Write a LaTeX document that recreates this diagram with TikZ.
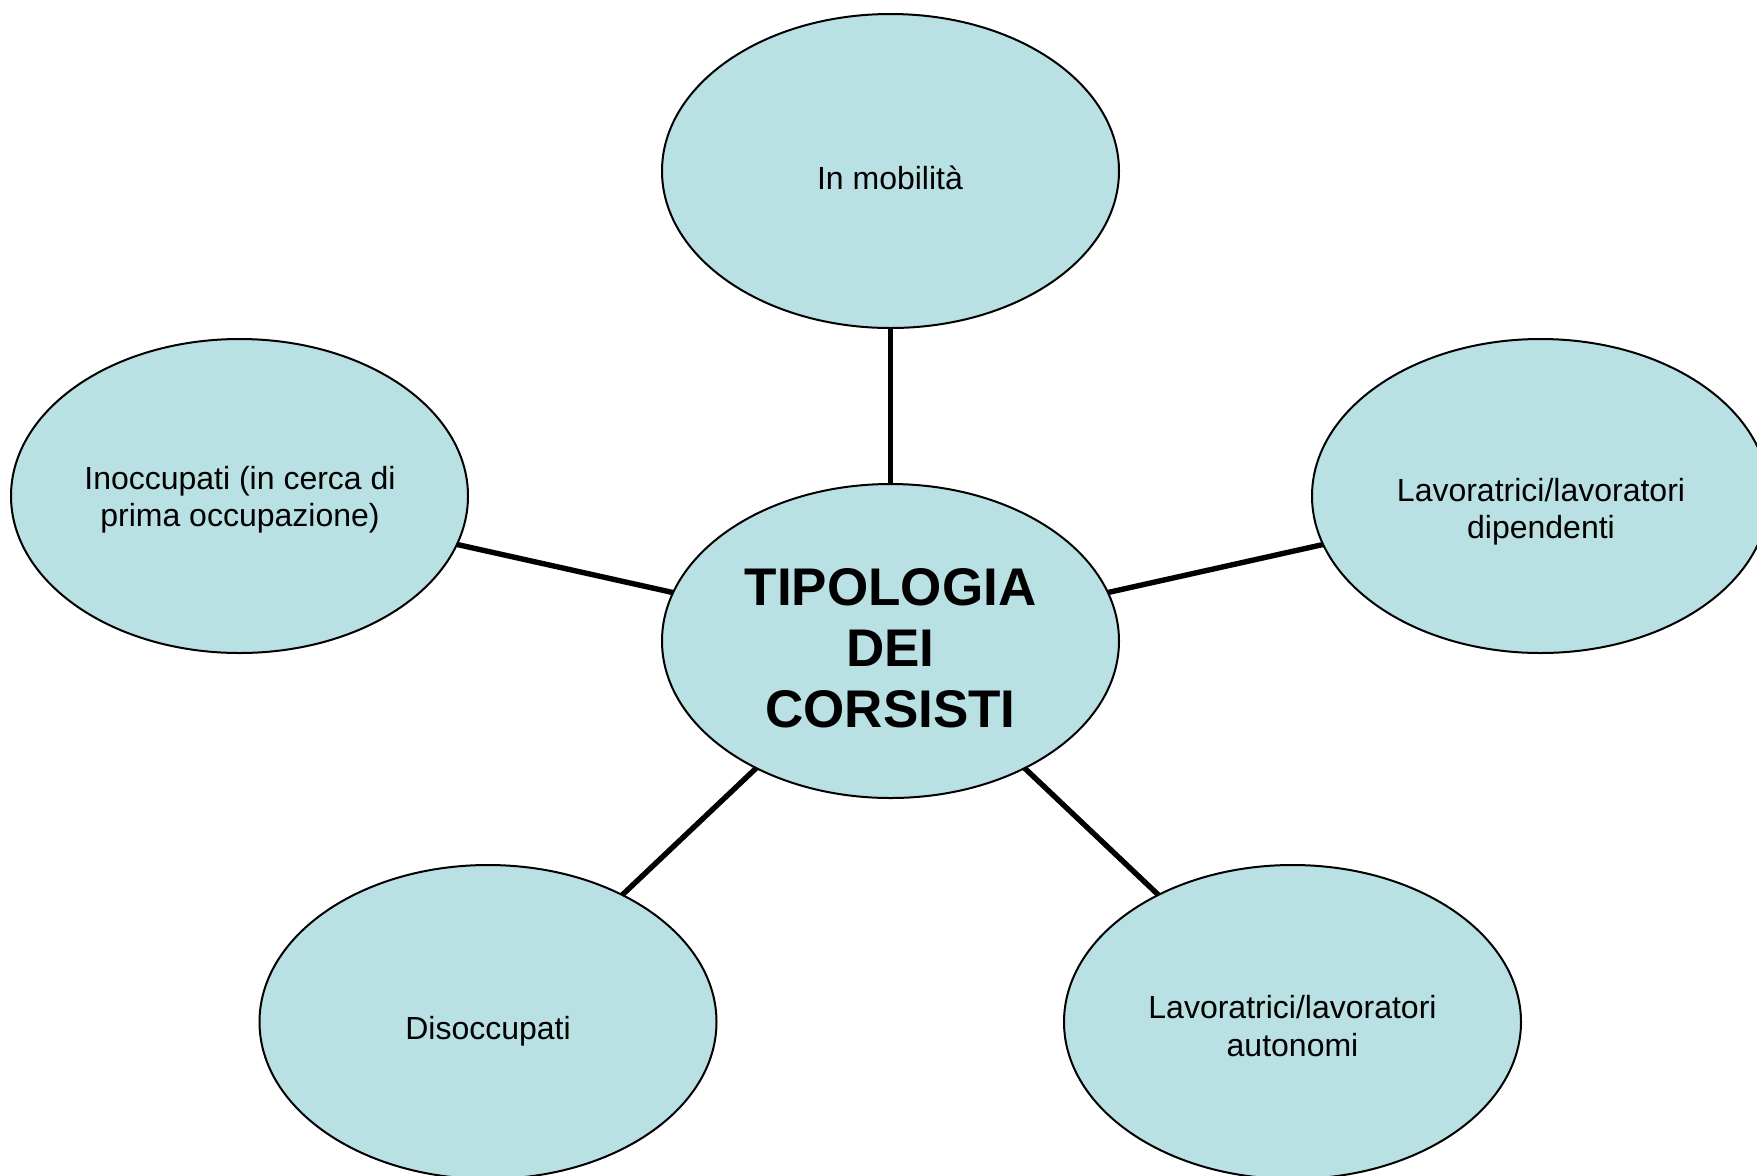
\documentclass[tikz,border=0pt]{standalone}
\usepackage{fontspec}
\setmainfont{Liberation Sans}
\usetikzlibrary{shapes.geometric}
\definecolor{bubble}{RGB}{185,224,227}
\tikzset{
  bubble/.style={ellipse, draw=black, line width=1pt, fill=bubble, minimum width=228.5pt, minimum height=157pt, inner sep=0pt, outer sep=0pt},
  spoke/.style={draw=black, line width=2.7pt},
  lbl/.style={align=center, font=\fontsize{16}{18.6}\selectfont, inner sep=0pt},
  ttl/.style={align=center, font=\fontsize{26.5}{30.5}\selectfont\bfseries, inner sep=0pt}
}
\begin{document}
\begin{tikzpicture}[x=0.5pt, y=-0.5pt]
\useasboundingbox (0,0) rectangle (1757,1175);
\clip (0,0) rectangle (1757,1175);
\fill[white] (0,0) rectangle (1757,1175);
\node[bubble] (top) at (890.5,171) {};
\node[bubble] (ctr) at (890.5,641) {};
\node[bubble] (lft) at (239.5,496) {};
\node[bubble] (rgt) at (1540.5,496) {};
\node[bubble] (bl) at (488,1022) {};
\node[bubble] (br) at (1292.5,1022) {};
\draw[spoke] (ctr) -- (top);
\draw[spoke] (ctr) -- (lft);
\draw[spoke] (ctr) -- (rgt);
\draw[spoke] (ctr) -- (bl);
\draw[spoke] (ctr) -- (br);
\node[lbl] (toptxt) at (890,178) {In mobilità};
\node[lbl] (lfttxt) at (240,500) {Inoccupati (in cerca di\\prima occupazione)};
\node[lbl] (rgttxt) at (1541,512) {Lavoratrici/lavoratori\\dipendenti};
\node[lbl] (brtxt) at (1292.5,1026) {Lavoratrici/lavoratori\\autonomi};
\node[lbl] (bltxt) at (488,1031) {Disoccupati};
\node[ttl] (ctrtxt) at (890.5,648) {TIPOLOGIA\\DEI\\CORSISTI};
\end{tikzpicture}
\end{document}
